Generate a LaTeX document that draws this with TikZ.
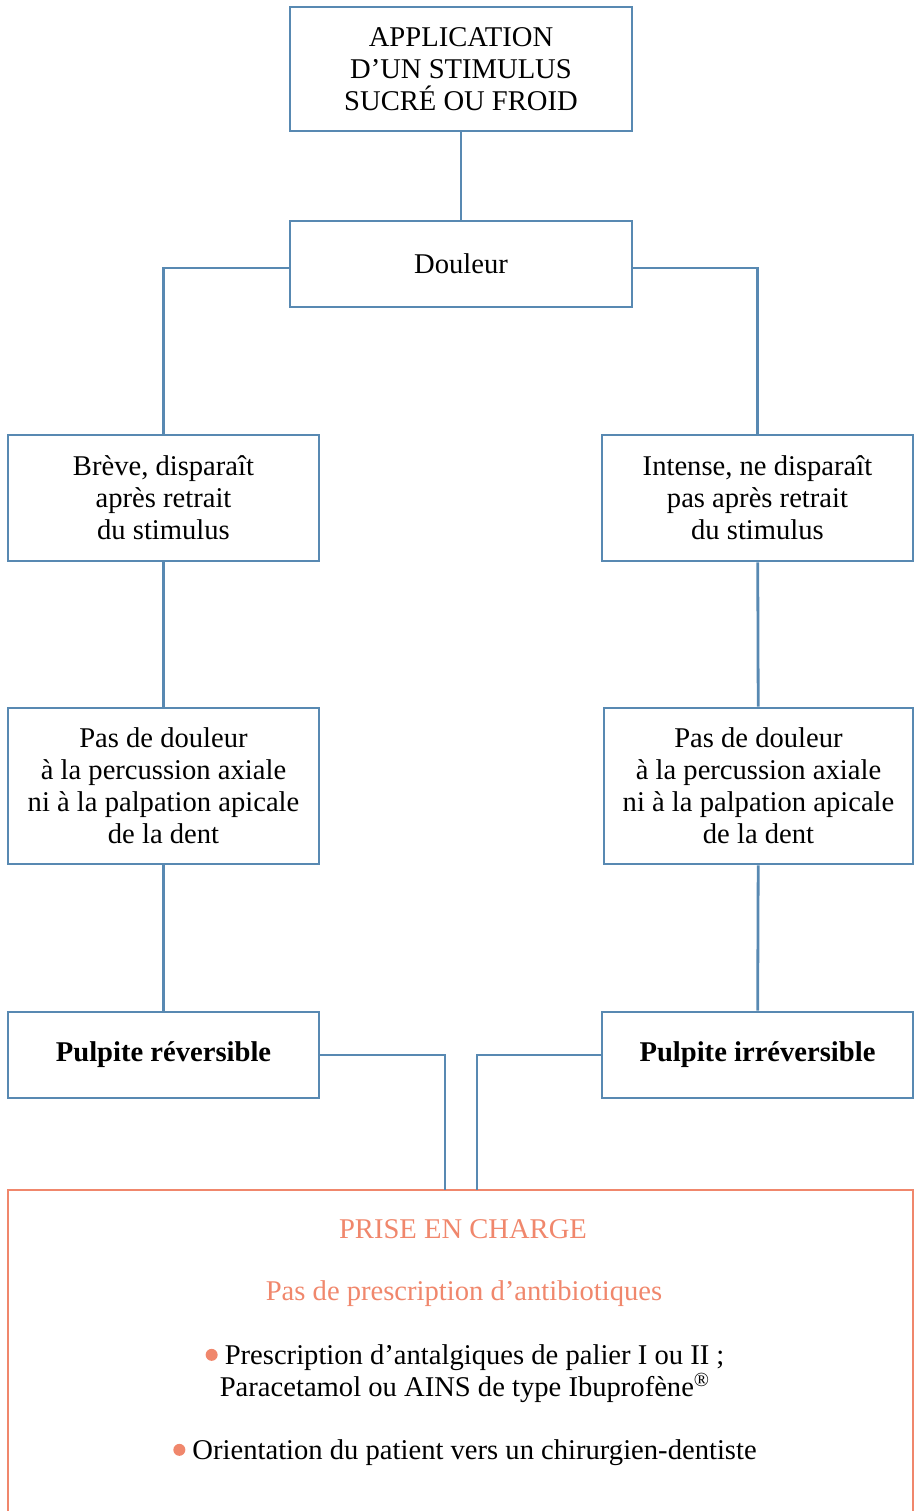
\documentclass[tikz,border=0pt]{standalone}
\usepackage{fontspec}
\setmainfont{Liberation Serif}
\usepackage{tikz}
\usetikzlibrary{calc}
\definecolor{bleu}{RGB}{88,137,178}
\definecolor{saumon}{RGB}{240,135,108}
\newcommand{\puce}{\tikz[baseline=-5pt]\fill[saumon] (0pt,0pt) circle (3pt);}

\begin{document}
\begin{tikzpicture}[x=0.5pt, y=-0.5pt,
        boite/.style={draw=bleu, line width=1.4pt, inner sep=0pt, align=center,
            font=\fontsize{14.3}{16}\selectfont},
        lien/.style={draw=bleu, line width=1.4pt},
        texte/.style={align=center, inner sep=0pt, font=\fontsize{14.3}{16}\selectfont}]
                \useasboundingbox (0,0) rectangle (914,1511);
                \node[boite, minimum width=171pt, minimum height=62pt] (stim) at (461,69)
                    {APPLICATION\\D'UN STIMULUS\\SUCRÉ OU FROID};
                \node[boite, minimum width=171pt, minimum height=43pt] (douleur) at (461,264) {Douleur};
                \node[boite, minimum width=155.5pt, minimum height=63pt] (breve) at (163.5,498)
                    {Brève, disparaît\\après retrait\\du stimulus};
                \node[boite, minimum width=155.5pt, minimum height=63pt] (intense) at (757.5,498)
                    {Intense, ne disparaît\\pas après retrait\\du stimulus};
                \node[boite, minimum width=155.5pt, minimum height=78pt] (pasL) at (163.5,786)
                    {Pas de douleur\\à la percussion axiale\\ni à la palpation apicale\\de la dent};
                \node[boite, minimum width=154.5pt, minimum height=78pt] (pasR) at (758.5,786)
                    {Pas de douleur\\à la percussion axiale\\ni à la palpation apicale\\de la dent};
                \node[boite, minimum width=155.5pt, minimum height=43pt, font=\fontsize{14.3}{16}\selectfont\bfseries] (rev) at (163.5,1055)
                    {Pulpite réversible};
                \node[boite, minimum width=155.5pt, minimum height=43pt, font=\fontsize{14.3}{16}\selectfont\bfseries] (irrev) at (757.5,1055)
                    {Pulpite irréversible};
                \node[draw=saumon, line width=1.4pt, minimum width=452.5pt, minimum height=180pt] (prise) at (460.5,1370) {};
                \node[texte, text=saumon] (titre) at (463,1229) {PRISE EN CHARGE};
                \node[texte, text=saumon] (pasatb) at (464,1294) {Pas de prescription d'antibiotiques};
                \node[texte] (antalg) at (465,1374)
                    {\puce\ Prescription d'antalgiques de palier I ou II ;\\
                    Paracetamol ou AINS de type Ibuprofène\textsuperscript{\textregistered}};
                \node[texte] (orient) at (465,1453)
                    {\puce\ Orientation du patient vers un chirurgien-dentiste};
                \coordinate (jL) at (445,1190);
                \coordinate (jR) at (477,1190);
                \draw[lien] (stim) -- (douleur);
                \draw[lien] ($(douleur.west)+(0,4)$) -| (breve.north);
                \draw[lien] ($(douleur.east)+(0,4)$) -| (intense.north);
                \draw[lien] (breve) -- (pasL);
                \draw[lien] (intense) -- (pasR);
                \draw[lien] (pasL) -- (rev);
                \draw[lien] (pasR) -- (irrev);
                \draw[lien] (rev.east) -| (jL);
                \draw[lien] (irrev.west) -| (jR);
            \end{tikzpicture}
\end{document}
